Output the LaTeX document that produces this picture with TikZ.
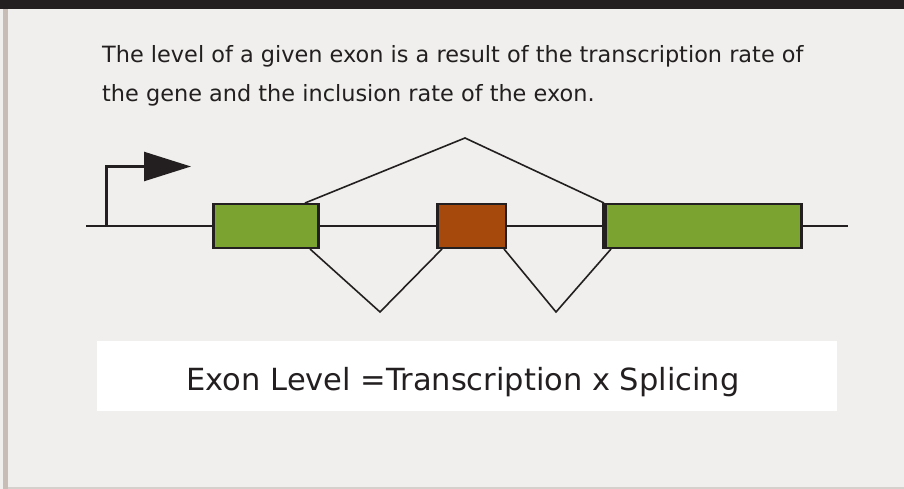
\documentclass[tikz,border=0pt]{standalone}
\usepackage{fontspec}
\setmainfont{DejaVu Sans}
\usetikzlibrary{arrows.meta,calc}

\definecolor{paper}{HTML}{F0EFED}
\definecolor{ink}{HTML}{231F20}
\definecolor{edgestrip}{HTML}{C8BCB7}
\definecolor{rulegray}{HTML}{D5D0CC}
\definecolor{exongreen}{HTML}{7BA32F}
\definecolor{exonbrown}{HTML}{A54A0C}

\tikzset{
  exonbox/.style={draw=ink, line width=2pt, inner sep=0pt, minimum height=44pt},
  intron/.style={draw=ink, line width=2.6pt},
  splice/.style={draw=ink, line width=1.6pt, line join=miter},
  caption/.style={anchor=base west, inner sep=0pt, text=ink, font=\fontsize{22.4}{26}\selectfont},
}

\begin{document}
\begin{tikzpicture}[x=1pt,y=-1pt]
  % page frame
  \useasboundingbox (0,0) rectangle (904,489);
  \fill[paper] (0,0) rectangle (904,489);
  \fill[ink] (0,0) rectangle (904,9);
  \fill[edgestrip] (3,9) rectangle (8,489);
  \fill[rulegray] (8,487) rectangle (904,489);

  % explanatory text
  \node[caption] (line1) at (102,62.3) {The level of a given exon is a result of the transcription rate of};
  \node[caption] (line2) at (102,101.5) {the gene and the inclusion rate of the exon.};

  % exons
  \node[exonbox, fill=exongreen, minimum width=104pt] (e1) at (266,226) {};
  \node[exonbox, fill=exonbrown, minimum width=68pt] (e2) at (472,226) {};
  \node[exonbox, fill=exongreen, minimum width=197pt] (e3) at (702.5,226) {};
  % heavier vertical edges of the exons
  \draw[ink, line width=3pt] ($(e1.north west)+(0.5,0)$) -- ($(e1.south west)+(0.5,0)$);
  \draw[ink, line width=3pt] ($(e1.north east)+(-0.5,0)$) -- ($(e1.south east)+(-0.5,0)$);
  \draw[ink, line width=3pt] ($(e2.north west)+(0.5,0)$) -- ($(e2.south west)+(0.5,0)$);
  \draw[ink, line width=5pt] ($(e3.north west)+(1.5,0)$) -- ($(e3.south west)+(1.5,0)$);
  \draw[ink, line width=3.5pt] ($(e3.north east)+(-0.5,0)$) -- ($(e3.south east)+(-0.5,0)$);

  % gene backbone
  \coordinate (start) at (86,226);
  \coordinate (stop) at (848,226);
  \draw[intron] (start) -- (e1.west);
  \draw[intron] (e1.east) -- (e2.west);
  \draw[intron] (e2.east) -- (e3.west);
  \draw[intron] (e3.east) -- (stop);

  % transcription start arrow
  \coordinate (tss) at (106.5,226);
  \coordinate (tip) at (191,166.5);
  \draw[ink, line width=2.4pt, -{Triangle[length=47pt,width=29pt]}] (tss) |- (tip);

  % splicing paths
  \coordinate (skip) at (465,138);
  \coordinate (v1) at (380,312);
  \coordinate (v2) at (556,312);
  \draw[splice] ($(e1.north east)+(-14,0)$) -- (skip) -- ($(e3.north west)+(1,0)$);
  \draw[splice] ($(e1.south east)+(-9,0)$) -- (v1) -- ($(e2.south west)+(5,0)$);
  \draw[splice] ($(e2.south east)+(-3,0)$) -- (v2) -- ($(e3.south west)+(8,0)$);

  % equation panel
  \node[fill=white, inner sep=0pt, minimum width=740pt, minimum height=70pt] (panel) at (467,376) {};
  \node[anchor=base, inner sep=0pt, text=ink, font=\fontsize{30.5}{36}\selectfont] (eq) at (463,390) {Exon Level =Transcription x Splicing};
\end{tikzpicture}
\end{document}
